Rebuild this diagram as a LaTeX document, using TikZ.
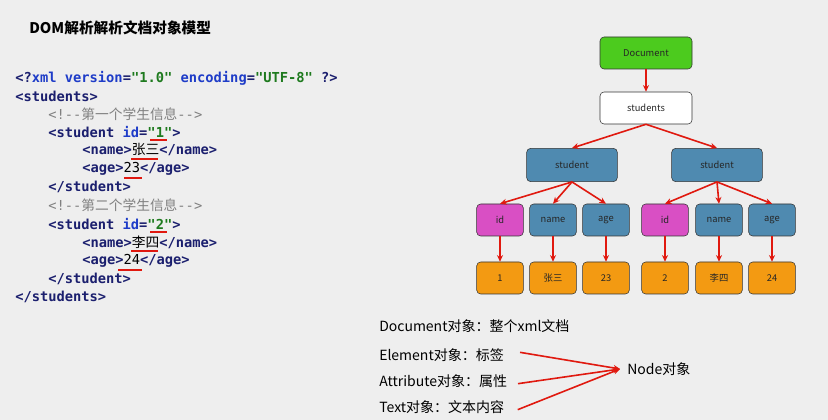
\documentclass[tikz,border=0pt]{standalone}
\usepackage{fontspec}
\setmainfont{Noto Sans CJK SC}
\setmonofont{DejaVu Sans Mono}
\newfontfamily\cjk{Noto Sans CJK SC}
\usetikzlibrary{arrows.meta,positioning}

\definecolor{bggray}{HTML}{EEEEEE}
\definecolor{tagblue}{HTML}{1B1F6E}
\definecolor{attrblue}{HTML}{1E3CC8}
\definecolor{valgreen}{HTML}{1E7A1E}
\definecolor{docgreen}{HTML}{4CCB1E}
\definecolor{elemblue}{HTML}{4F8AB0}
\definecolor{attrpink}{HTML}{D94FC4}
\definecolor{textorange}{HTML}{F39A12}
\definecolor{linkred}{HTML}{E0190F}

\tikzset{
  treebox/.style={draw=black!80, rounded corners=3pt, minimum height=24pt, font=\fontsize{7}{8}\selectfont, text=black!85},
  codeline/.style={anchor=west, inner sep=0pt, font=\ttfamily\bfseries\fontsize{10.3}{12}\selectfont, text=tagblue},
  link/.style={linkred, line width=1.2pt, -{Stealth[length=5pt,width=4.5pt]}},
  uline/.style={linkred, thick},
  note/.style={anchor=west, inner sep=0pt, font=\fontsize{10.5}{12}\selectfont}
}
\newcommand{\cmt}[1]{\textcolor{gray}{\mdseries #1}}
\newcommand{\zh}[1]{{\cjk\mdseries #1}}

\begin{document}
\begin{tikzpicture}[x=0.75pt,y=-0.75pt]
  \fill[bggray] (0,0) rectangle (828,420);
  \useasboundingbox (0,0) rectangle (828,420);

  % title
  \node[anchor=west, inner sep=0pt, font=\bfseries\fontsize{11}{13}\selectfont] (title) at (29,28) {DOM解析解析文档对象模型};

  % xml source
  \node[codeline] (l1) at (15,78) {<?\textcolor{attrblue}{xml version}=\textcolor{valgreen}{"1.0"} \textcolor{attrblue}{encoding}=\textcolor{valgreen}{"UTF-8"} ?>};
  \node[codeline] (l2) at (15,96) {<students>};
  \node[codeline] (l3) at (48,114) {\cmt{<!--\zh{第一个学生信息}-->}};
  \node[codeline] (l4) at (48,132) {<student \textcolor{attrblue}{id}=\textcolor{valgreen}{"1"}>};
  \node[codeline] (l5) at (82,150) {<name>\zh{\textcolor{black}{张三}}</name>};
  \node[codeline] (l6) at (82,169) {<age>\textcolor{black}{\mdseries 23}</age>};
  \node[codeline] (l7) at (48,187) {</student>};
  \node[codeline] (l8) at (48,205) {\cmt{<!--\zh{第二个学生信息}-->}};
  \node[codeline] (l9) at (48,224) {<student \textcolor{attrblue}{id}=\textcolor{valgreen}{"2"}>};
  \node[codeline] (l10) at (82,242) {<name>\zh{\textcolor{black}{李四}}</name>};
  \node[codeline] (l11) at (82,261) {<age>\textcolor{black}{\mdseries 24}</age>};
  \node[codeline] (l12) at (48,279) {</student>};
  \node[codeline] (l13) at (15,297) {</students>};

  % red underlines
  \draw[uline] (150,140) -- (167,140);
  \draw[uline] (131,159) -- (158,159);
  \draw[uline] (124,178) -- (142,178);
  \draw[uline] (150,232) -- (167,232);
  \draw[uline] (131,251) -- (158,251);
  \draw[uline] (118,270) -- (142,270);

  % tree
  \node[treebox, fill=docgreen, minimum width=69pt] (doc) at (646,53) {Document};
  \node[treebox, fill=white, minimum width=69pt] (root) at (646,108) {students};
  \node[treebox, fill=elemblue, minimum width=68pt, minimum height=25pt] (stuA) at (572,165) {student};
  \node[treebox, fill=elemblue, minimum width=68pt, minimum height=25pt] (stuB) at (717,165) {student};

  \node[treebox, fill=attrpink, minimum width=35pt] (idA) at (500,220) {id};
  \node[treebox, fill=elemblue, minimum width=35pt] (nameA) at (553,220) {name};
  \node[treebox, fill=elemblue, minimum width=35pt] (ageA) at (606,220) {age};
  \node[treebox, fill=attrpink, minimum width=35pt] (idB) at (665,220) {id};
  \node[treebox, fill=elemblue, minimum width=35pt] (nameB) at (719,220) {name};
  \node[treebox, fill=elemblue, minimum width=35pt] (ageB) at (772,220) {age};

  \node[treebox, fill=textorange, minimum width=35pt] (valA1) at (500,278) {1};
  \node[treebox, fill=textorange, minimum width=35pt] (valA2) at (553,278) {张三};
  \node[treebox, fill=textorange, minimum width=35pt] (valA3) at (606,278) {23};
  \node[treebox, fill=textorange, minimum width=35pt] (valB1) at (665,278) {2};
  \node[treebox, fill=textorange, minimum width=35pt] (valB2) at (719,278) {李四};
  \node[treebox, fill=textorange, minimum width=35pt] (valB3) at (772,278) {24};

  \draw[link] (doc) -- (root);
  \draw[link] (root.south) -- (stuA.north);
  \draw[link] (root.south) -- (stuB.north);
  \foreach \s/\a/\b/\c in {stuA/idA/nameA/ageA, stuB/idB/nameB/ageB} {
    \draw[link] (\s.south) -- (\a.north);
    \draw[link] (\s.south) -- (\b.north);
    \draw[link] (\s.south) -- (\c.north);
  }
  \foreach \a/\b in {idA/valA1, nameA/valA2, ageA/valA3, idB/valB1, nameB/valB2, ageB/valB3}
    \draw[link] (\a) -- (\b);

  % object kinds
  \node[note] (kdoc) at (379,326) {Document对象：整个xml文档};
  \node[note] (kelem) at (379,355) {Element对象：标签};
  \node[note] (kattr) at (379,381) {Attribute对象：属性};
  \node[note] (ktext) at (379,407) {Text对象：文本内容};
  \node[note] (knode) at (627,369) {Node对象};
  \coordinate (hub) at (620,369);
  \draw[link] ([xshift=12pt,yshift=2pt]kelem.east) -- (hub);
  \draw[link] ([xshift=8pt,yshift=-2pt]kattr.east) -- (hub);
  \draw[link] ([xshift=10pt,yshift=-2pt]ktext.east) -- (hub);
\end{tikzpicture}
\end{document}
